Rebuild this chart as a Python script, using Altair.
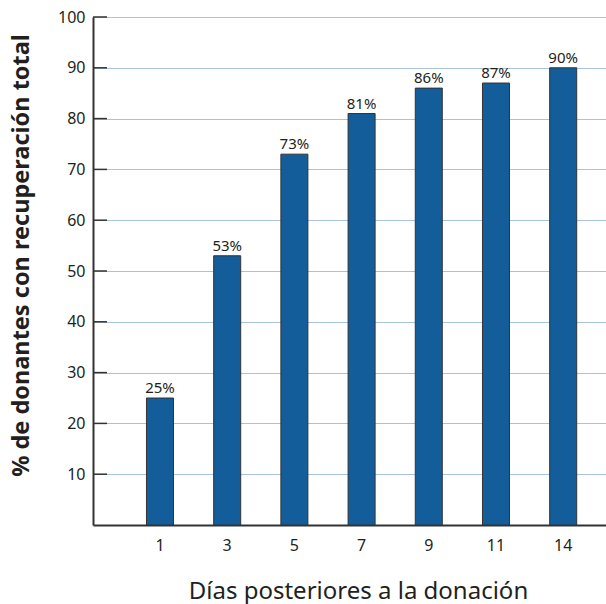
import altair as alt
import pandas as pd

# Days after donation and share of donors fully recovered
dias = ["1", "3", "5", "7", "9", "11", "14"]
porcentaje = [25, 53, 73, 81, 86, 87, 90]
etiquetas = ["25%", "53%", "73%", "81%", "86%", "87%", "90%"]
marcas_y = [10, 20, 30, 40, 50, 60, 70, 80, 90, 100]

TEXT = "#231f20"
FONT = "Noto Sans"

df = pd.DataFrame({"dia": dias, "pct": porcentaje, "etiqueta": etiquetas})
ticks_df = pd.DataFrame({"v": marcas_y})

x_enc = alt.X(
    "dia:O",
    sort=dias,
    scale=alt.Scale(paddingInner=0.598, paddingOuter=0.616, align=0.646),
    axis=alt.Axis(
        title="Días posteriores a la donación",
        titleFont=FONT,
        titleFontSize=24,
        titleFontWeight="normal",
        titleColor=TEXT,
        titleX=265,
        titleY=73,
        titleAlign="center",
        titleBaseline="alphabetic",
        labelFont=FONT,
        labelFontSize=16,
        labelColor=TEXT,
        labelAngle=0,
        labelPadding=12,
        ticks=False,
        domainColor="#333333",
        domainWidth=2,
    ),
)

y_scale = alt.Scale(domain=[0, 100], nice=False)

bars = alt.Chart(df).mark_bar(
    color="#135e9a", stroke="#333333", strokeWidth=1
).encode(
    x=x_enc,
    y=alt.Y(
        "pct:Q",
        scale=y_scale,
        axis=alt.Axis(
            title="% de donantes con recuperación total",
            titleFont=FONT,
            titleFontSize=23.5,
            titleFontWeight="bold",
            titleColor=TEXT,
            titleX=-65,
            titleY=238,
            titleAlign="center",
            titleBaseline="alphabetic",
            titleAngle=-90,
            values=marcas_y,
            labelFont=FONT,
            labelFontSize=16,
            labelColor=TEXT,
            labelPadding=8,
            ticks=False,
            grid=True,
            gridColor="#a9c3df",
            gridWidth=1.2,
            domainColor="#333333",
            domainWidth=2,
        ),
    ),
)

labels = alt.Chart(df).mark_text(
    font=FONT, fontSize=15, color=TEXT, baseline="alphabetic", dy=-5
).encode(
    x=alt.X("dia:O", sort=dias),
    y=alt.Y("pct:Q", scale=y_scale),
    text="etiqueta:N",
)

# short dark tick stubs drawn inward from the y axis
stubs = alt.Chart(ticks_df).mark_rule(color="#333333", strokeWidth=1.5).encode(
    x=alt.value(0),
    x2=alt.value(14),
    y=alt.Y("v:Q", scale=y_scale),
)

chart = (
    alt.layer(bars, labels, stubs)
    .properties(
        width=513,
        height=508,
        autosize=alt.AutoSizeParams(type="none"),
        padding={"left": 93, "top": 17, "right": 0, "bottom": 79},
    )
    .configure_view(stroke=None)
    .configure(background="white")
)

chart.save("out.html", embed_options={"renderer": "svg", "actions": False})
